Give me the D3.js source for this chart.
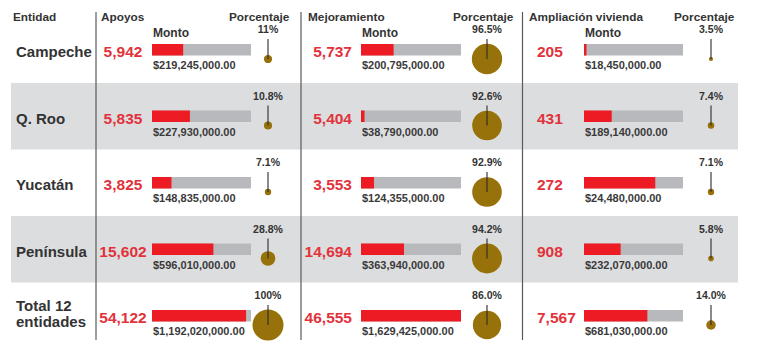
<!DOCTYPE html>
<html>
<head>
<meta charset="utf-8">
<script src="https://cdn.jsdelivr.net/npm/d3@7"></script>
<style>
  html, body { margin: 0; padding: 0; background: #ffffff; }
  svg { display: block; font-family: "Liberation Sans", Arial, Helvetica, sans-serif; }
</style>
</head>
<body>
<svg id="chart" width="768" height="347"></svg>
<script>
// ---------- data ----------
const entities = ["Campeche", "Q. Roo", "Yucatán", "Península", "Total 12 entidades"];
const groupTitles = ["Apoyos", "Mejoramiento", "Ampliación vivienda"];

const apoyosCount = [5942, 5835, 3825, 15602, 54122];
const apoyosMonto = [219245000, 227930000, 148835000, 596010000, 1192020000];
const apoyosShare = [0.315, 0.383, 0.197, 0.62, 0.95];
const apoyosPct = [11, 10.8, 7.1, 28.8, 100];

const mejoraCount = [5737, 5404, 3553, 14694, 46555];
const mejoraMonto = [200795000, 38790000, 124355000, 363940000, 1629425000];
const mejoraShare = [0.326, 0.035, 0.13, 0.43, 1.0];
const mejoraPct = [96.5, 92.6, 92.9, 94.2, 86.0];

const ampliaCount = [205, 431, 272, 908, 7567];
const ampliaMonto = [18450000, 189140000, 24480000, 232070000, 681030000];
const ampliaShare = [0.025, 0.28, 0.72, 0.37, 0.64];
const ampliaPct = [3.5, 7.4, 7.1, 5.8, 14.0];

// ---------- layout ----------
const groups = [
  { title: groupTitles[0], count: apoyosCount, monto: apoyosMonto, share: apoyosShare, pct: apoyosPct,
    sep: 96, titleX: 101, numX: 123, numAnchor: "middle", barX: 152, barW: 99, pctX: 268, porcX: 229,
    fmtPct: d => (d % 1 ? d.toFixed(1) : String(d)) + "%" },
  { title: groupTitles[1], count: mejoraCount, monto: mejoraMonto, share: mejoraShare, pct: mejoraPct,
    sep: 301, titleX: 308, numX: 352, numAnchor: "end", barX: 361, barW: 100, pctX: 487, porcX: 453,
    fmtPct: d => d.toFixed(1) + "%" },
  { title: groupTitles[2], count: ampliaCount, monto: ampliaMonto, share: ampliaShare, pct: ampliaPct,
    sep: 522.5, titleX: 529, numX: 537, numAnchor: "start", barX: 584, barW: 99, pctX: 711, porcX: 674,
    fmtPct: d => d.toFixed(1) + "%" }
];

const C = {
  text: "#333333",
  red: "#ed1c24",
  redText: "#e2323b",
  gray: "#b8b9bc",
  band: "#dcdddf",
  gold: "#977109",
  line: "#2b2b2b",
  sep: "#5a5a5a"
};

const svg = d3.select("#chart");

const y = d3.scaleBand().domain(entities).range([16.5, 16.5 + 66.5 * entities.length]).padding(0);
const barTop = e => y(e) + 27.5;
const rScale = d3.scalePow().exponent(0.6).domain([0, 100]).range([0, 15.5]);
const fmtCount = d3.format(",");
const fmtMoney = d => "$" + d3.format(",.2f")(d);

// shaded bands (alternate rows)
svg.append("g").selectAll("rect")
  .data(entities.filter((e, i) => i % 2 === 1))
  .join("rect")
  .attr("x", 11).attr("width", 738 - 11)
  .attr("y", d => y(d)).attr("height", y.bandwidth())
  .attr("fill", C.band);

// separators
svg.append("g").selectAll("line")
  .data(groups)
  .join("line")
  .attr("x1", d => d.sep).attr("x2", d => d.sep)
  .attr("y1", 12).attr("y2", 340)
  .attr("stroke", C.sep).attr("stroke-width", 1.2);

// header
svg.append("text").attr("x", 13).attr("y", 21)
  .attr("font-size", 11.8).attr("font-weight", "bold").attr("fill", C.text).text("Entidad");

// entity names
const names = svg.append("g").selectAll("text")
  .data(entities)
  .join("text")
  .attr("x", 16)
  .attr("font-size", 15).attr("font-weight", "bold").attr("fill", C.text);
names.each(function(d) {
  const t = d3.select(this);
  const parts = d === "Total 12 entidades" ? ["Total 12", "entidades"] : [d];
  if (parts.length === 1) {
    t.attr("y", barTop(d) + 13).text(d);
  } else {
    t.attr("y", barTop(d) + 1);
    parts.forEach((p, i) => t.append("tspan").attr("x", 16).attr("dy", i === 0 ? 0 : 15.5).text(p));
  }
});

groups.forEach(g => {
  const G = svg.append("g");
  const x = d3.scaleLinear().domain([0, 1]).range([0, g.barW]);
  const rows = entities.map((e, i) => ({ e, i, count: g.count[i], monto: g.monto[i], share: g.share[i], pct: g.pct[i] }));

  G.append("text").attr("x", g.titleX).attr("y", 21)
    .attr("font-size", 11.8).attr("font-weight", "bold").attr("fill", C.text).text(g.title);
  G.append("text").attr("x", g.porcX).attr("y", 21)
    .attr("font-size", 11.8).attr("font-weight", "bold").attr("fill", C.text).text("Porcentaje");
  G.append("text").attr("x", g.barX + 1).attr("y", 37)
    .attr("font-size", 12).attr("font-weight", "bold").attr("fill", C.text).text("Monto");

  // counts
  G.selectAll("text.count").data(rows).join("text").attr("class", "count")
    .attr("x", g.numX).attr("y", d => barTop(d.e) + 13)
    .attr("text-anchor", g.numAnchor)
    .attr("font-size", 15.5).attr("font-weight", "bold").attr("fill", C.redText)
    .text(d => fmtCount(d.count));

  // bar backgrounds
  G.selectAll("rect.bg").data(rows).join("rect").attr("class", "bg")
    .attr("x", g.barX).attr("y", d => barTop(d.e))
    .attr("width", x(1)).attr("height", 11.5).attr("fill", C.gray);
  G.selectAll("rect.fg").data(rows).join("rect").attr("class", "fg")
    .attr("x", g.barX).attr("y", d => barTop(d.e))
    .attr("width", d => x(d.share)).attr("height", 11.5).attr("fill", C.red);

  // amounts
  G.selectAll("text.monto").data(rows).join("text").attr("class", "monto")
    .attr("x", g.barX + 1).attr("y", d => barTop(d.e) + 25)
    .attr("font-size", 11).attr("font-weight", "bold").attr("fill", "#3a3a3a")
    .text(d => fmtMoney(d.monto));

  // percent circles
  G.selectAll("circle").data(rows).join("circle")
    .attr("cx", g.pctX).attr("cy", d => barTop(d.e) + 15)
    .attr("r", d => rScale(d.pct)).attr("fill", C.gold);
  G.selectAll("line.stem").data(rows).join("line").attr("class", "stem")
    .attr("x1", g.pctX).attr("x2", g.pctX)
    .attr("y1", d => barTop(d.e) - 5).attr("y2", d => barTop(d.e) + 15)
    .attr("stroke", C.line).attr("stroke-width", 1.1);
  G.selectAll("text.pct").data(rows).join("text").attr("class", "pct")
    .attr("x", g.pctX).attr("y", d => barTop(d.e) - 11)
    .attr("text-anchor", "middle")
    .attr("font-size", 10.5).attr("font-weight", "bold").attr("fill", C.text)
    .text(d => g.fmtPct(d.pct));
});
</script>
</body>
</html>
